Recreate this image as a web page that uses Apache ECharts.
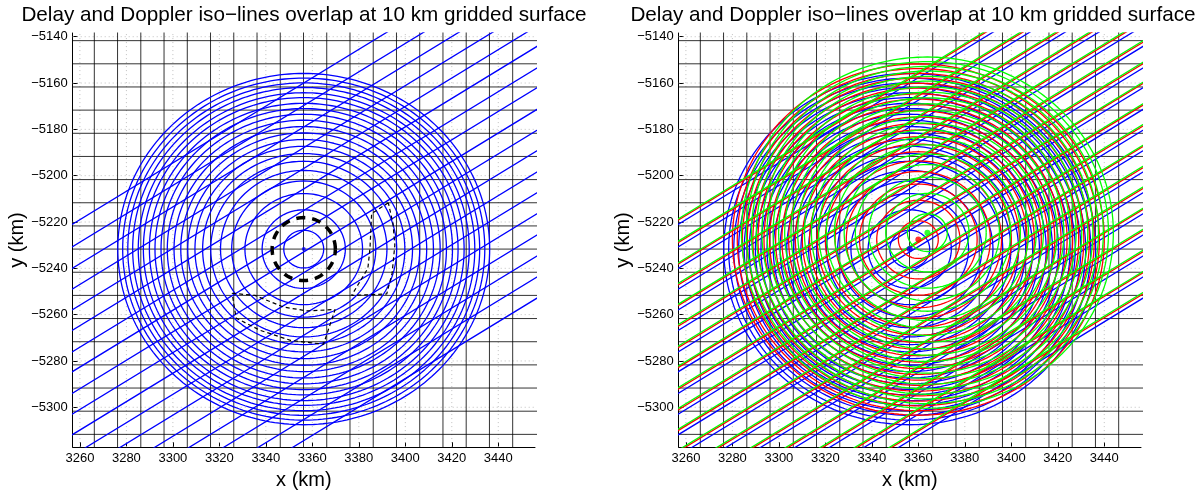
<!DOCTYPE html>
<html>
<head>
<meta charset="utf-8">
<script src="https://cdn.jsdelivr.net/npm/echarts@6/dist/echarts.min.js"></script>
<style>
html, body { margin: 0; background: #fff; }
#chart { width: 1203px; height: 495px; }
</style>
</head>
<body>
<div id="chart"></div>
<script>
// axis ticks
const xTicks = [3260, 3280, 3300, 3320, 3340, 3360, 3380, 3400, 3420, 3440]
const yTicks = [-5300, -5280, -5260, -5240, -5220, -5200, -5180, -5160, -5140]
const xRange = [3256.9, 3455.8]
const yRange = [-5317.2, -5138.4]

// 10 km gridded surface
const surfaceX = [3266.2, 3276.2, 3286.2, 3296.2, 3306.2, 3316.2, 3326.2, 3336.2, 3346.2, 3356.2,
  3366.2, 3376.2, 3386.2, 3396.2, 3406.2, 3416.2, 3426.2, 3436.2, 3446.2]
const surfaceY = [-5141.7, -5151.7, -5161.7, -5171.7, -5181.7, -5191.7, -5201.7, -5211.7, -5221.7,
  -5231.7, -5241.7, -5251.7, -5261.7, -5271.7, -5281.7, -5291.7, -5301.7, -5311.7]

// delay iso-lines (semi-axis along x, km) and their flattening in y
const delayRadii = [8.6, 17.9, 25.3, 31.0, 35.8, 40.0, 43.5, 46.8, 49.9, 52.9, 55.8, 58.7,
  61.4, 64.0, 66.4, 69.0, 71.2, 73.6, 75.7, 77.9, 80.0]
const delayAspect = 0.948

// doppler iso-lines: y where each line crosses x = blue centre x
const dopplerOffsets = [-5160.0, -5169.7, -5179.0, -5187.9, -5196.9, -5205.7, -5215.0, -5223.6,
  -5232.9, -5241.9, -5250.8, -5259.9, -5268.9, -5278.0, -5287.1, -5296.2, -5305.3, -5314.4]
const dopplerSlope = 0.613

// nadir points
const blueCentre = [3356.3, -5231.7]
const redCentre = [3360.0, -5227.6]
const greenCentre = [3363.9, -5224.6]

// dashed outlines (left panel)
const cellRing = 13.6
const cellRight = [[3392.7, -5211.7], [3385.5, -5216.4], [3384.8, -5231.4], [3383.9, -5240.0],
  [3376.9, -5251.7], [3392.0, -5251.1], [3394.3, -5242.2], [3395.5, -5230.0], [3394.7, -5220.7], [3392.7, -5211.7]]
const cellLeft = [[3325.5, -5250.8], [3335.3, -5251.7], [3347.5, -5256.7], [3357.6, -5258.4], [3369.8, -5257.8],
  [3364.8, -5272.8], [3350.6, -5271.1], [3337.6, -5266.8], [3327.2, -5261.5], [3325.5, -5250.8]]

const GAP = [NaN, NaN]
const fmt = v => String(v).replace('-', '\u2212')

const ellipses = (c) => {
  const pts = []
  delayRadii.forEach(r => {
    for (let k = 0; k <= 240; k++) {
      const t = Math.PI * 2 * k / 240
      pts.push([c[0] + r * Math.cos(t), c[1] + r * delayAspect * Math.sin(t)])
    }
    pts.push(GAP)
  })
  return pts
}

const dopplerLines = (c) => {
  const dy = c[1] - blueCentre[1] - dopplerSlope * (c[0] - blueCentre[0])
  const pts = []
  dopplerOffsets.forEach(y0 => {
    pts.push([3230, y0 + dy + dopplerSlope * (3230 - blueCentre[0])])
    pts.push([3480, y0 + dy + dopplerSlope * (3480 - blueCentre[0])])
    pts.push(GAP)
  })
  return pts
}

const gridLines = (vals, vertical, ext) => {
  const pts = []
  vals.forEach(v => {
    if (vertical) { pts.push([v, ext[0]], [v, ext[1]]) } else { pts.push([ext[0], v], [ext[1], v]) }
    pts.push(GAP)
  })
  return pts
}

const lineSeries = (idx, data, color, width, z, extra) => Object.assign({
  type: 'line', xAxisIndex: idx, yAxisIndex: idx, data, showSymbol: false, symbol: 'none',
  silent: true, animation: false, connectNulls: false, z,
  lineStyle: { color, width }
}, extra || {})

const chart = echarts.init(document.getElementById('chart'))

const axesFor = (i) => ({
  x: {
    type: 'value', gridIndex: i, min: xRange[0], max: xRange[1],
    name: 'x (km)', nameLocation: 'middle', nameGap: 20,
    nameTextStyle: { fontSize: 20, color: '#000', fontFamily: 'Liberation Sans' },
    axisLine: { show: true, onZero: false, lineStyle: { color: '#000', width: 1 } },
    axisTick: { show: true, inside: true, length: 5, customValues: xTicks, lineStyle: { color: '#000' } },
    axisLabel: { customValues: xTicks, formatter: v => String(v), color: '#000', fontSize: 13, margin: 5, fontFamily: 'Liberation Sans' },
    splitLine: { show: false }
  },
  y: {
    type: 'value', gridIndex: i, min: yRange[0], max: yRange[1],
    name: 'y (km)', nameLocation: 'middle', nameGap: 44,
    nameTextStyle: { fontSize: 20, color: '#000', fontFamily: 'Liberation Sans' },
    axisLine: { show: true, onZero: false, lineStyle: { color: '#000', width: 1 } },
    axisTick: { show: true, inside: true, length: 5, customValues: yTicks, lineStyle: { color: '#000' } },
    axisLabel: { customValues: yTicks, formatter: fmt, color: '#000', fontSize: 13, margin: 5, fontFamily: 'Liberation Sans' },
    splitLine: { show: false }
  }
})

const a0 = axesFor(0)
const a1 = axesFor(1)
const series = []

for (let i = 0; i < 2; i++) {
  series.push(lineSeries(i, gridLines(xTicks, true, yRange), '#b8b8b8', 1, 1, { lineStyle: { color: '#c0c0c0', width: 1, type: [1, 3] } }))
  series.push(lineSeries(i, gridLines(yTicks, false, xRange), '#b8b8b8', 1, 1, { lineStyle: { color: '#c0c0c0', width: 1, type: [1, 3] } }))
  series.push(lineSeries(i, gridLines(surfaceX, true, [-5340, -5120]), 'rgba(0,0,0,0.8)', 1, 2))
  series.push(lineSeries(i, gridLines(surfaceY, false, [3240, 3470]), 'rgba(0,0,0,0.8)', 1, 2))
}

// left panel
series.push(lineSeries(0, ellipses(blueCentre), '#0000ff', 1.3, 3))
series.push(lineSeries(0, dopplerLines(blueCentre), '#0000ff', 1.3, 3))
series.push(lineSeries(0, (() => {
  const pts = []
  for (let k = 0; k <= 240; k++) {
    const t = Math.PI * 2 * k / 240
    pts.push([blueCentre[0] + cellRing * Math.cos(t), blueCentre[1] + cellRing * Math.sin(t)])
  }
  return pts
})(), '#000', 3.5, 5, { lineStyle: { color: '#000', width: 3.5, type: [9, 7] } }))
series.push(lineSeries(0, cellRight, '#000', 1.2, 5, { lineStyle: { color: '#000', width: 1.2, type: [4, 3] } }))
series.push(lineSeries(0, cellLeft, '#000', 1.2, 5, { lineStyle: { color: '#000', width: 1.2, type: [4, 3] } }))
series.push({ type: 'scatter', xAxisIndex: 0, yAxisIndex: 0, data: [blueCentre], symbolSize: 4, itemStyle: { color: '#0000ff' }, z: 6, silent: true, animation: false })

// right panel
const colours = [['#0000ff', blueCentre], ['#ff0000', redCentre], ['#00ff00', greenCentre]]
colours.forEach(([col, c], k) => {
  series.push(lineSeries(1, ellipses(c), col, 1.3, 3 + k))
})
colours.forEach(([col, c], k) => {
  series.push(lineSeries(1, dopplerLines(c), col, 1.3, 3 + k))
})
colours.forEach(([col, c]) => {
  series.push({ type: 'scatter', xAxisIndex: 1, yAxisIndex: 1, data: [c], symbolSize: 6, itemStyle: { color: col }, z: 7, silent: true, animation: false })
})

const titleText = 'Delay and Doppler iso\u2212lines overlap at 10 km gridded surface'
chart.setOption({
  animation: false,
  backgroundColor: '#fff',
  title: [
    { text: titleText, left: 299, top: 0, textAlign: 'center',
      textStyle: { fontSize: 20.7, fontWeight: 'normal', color: '#000', fontFamily: 'Liberation Sans' } },
    { text: titleText, left: 908, top: 0, textAlign: 'center',
      textStyle: { fontSize: 20.7, fontWeight: 'normal', color: '#000', fontFamily: 'Liberation Sans' } }
  ],
  grid: [
    { left: 72.7, top: 33, width: 462.3, height: 416 },
    { left: 678.7, top: 33, width: 462.3, height: 416 }
  ],
  xAxis: [a0.x, a1.x],
  yAxis: [a0.y, a1.y],
  series
})
</script>
</body>
</html>
